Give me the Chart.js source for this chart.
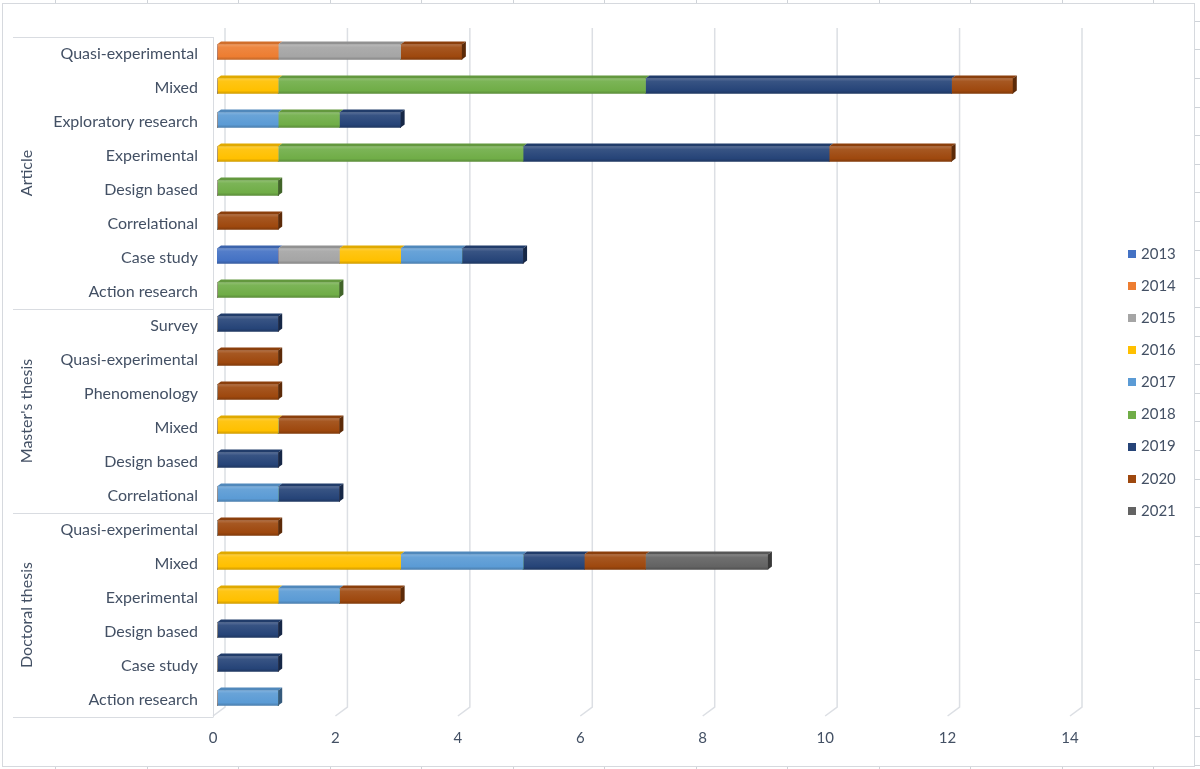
<!DOCTYPE html>
<html><head><meta charset="utf-8">
<script src="https://cdn.jsdelivr.net/npm/chart.js@4"></script>
<style>html,body{margin:0;padding:0;background:#fff;}canvas{display:block;}</style>
</head><body>
<canvas id="c" width="1200" height="769"></canvas>
<script>
const groups = ["Article", "Master's thesis", "Doctoral thesis"];
const groupSizes = [8, 6, 6];
const categories = [
  "Quasi-experimental","Mixed","Exploratory research","Experimental","Design based","Correlational","Case study","Action research",
  "Survey","Quasi-experimental","Phenomenology","Mixed","Design based","Correlational",
  "Quasi-experimental","Mixed","Experimental","Design based","Case study","Action research"
];
const years = ["2013","2014","2015","2016","2017","2018","2019","2020","2021"];
const v2013 = [0,0,0,0,0,0,1,0, 0,0,0,0,0,0, 0,0,0,0,0,0];
const v2014 = [1,0,0,0,0,0,0,0, 0,0,0,0,0,0, 0,0,0,0,0,0];
const v2015 = [2,0,0,0,0,0,1,0, 0,0,0,0,0,0, 0,0,0,0,0,0];
const v2016 = [0,1,0,1,0,0,1,0, 0,0,0,1,0,0, 0,3,1,0,0,0];
const v2017 = [0,0,1,0,0,0,1,0, 0,0,0,0,0,1, 0,2,1,0,0,1];
const v2018 = [0,6,1,4,1,0,0,2, 0,0,0,0,0,0, 0,0,0,0,0,0];
const v2019 = [0,5,1,5,0,0,1,0, 1,0,0,0,1,1, 0,1,0,1,1,0];
const v2020 = [1,1,0,2,0,1,0,0, 0,1,1,1,0,0, 1,1,1,0,0,0];
const v2021 = [0,0,0,0,0,0,0,0, 0,0,0,0,0,0, 0,2,0,0,0,0];
const seriesValues = [v2013,v2014,v2015,v2016,v2017,v2018,v2019,v2020,v2021];
const xTickStep = 2, xMax = 14;
const colors = ["#4472C4","#ED7D31","#A5A5A5","#FFC000","#5B9BD5","#70AD47","#264478","#9E480E","#636363"];

const TXT = "#435064";
const FONT = "Lato";
const GRID = "#dcdfe4";

function shade(hex, f) {
  const n = parseInt(hex.slice(1), 16);
  let r = (n >> 16) & 255, g = (n >> 8) & 255, b = n & 255;
  if (f >= 0) { r += (255 - r) * f; g += (255 - g) * f; b += (255 - b) * f; }
  else { r *= 1 + f; g *= 1 + f; b *= 1 + f; }
  return "rgb(" + Math.round(r) + "," + Math.round(g) + "," + Math.round(b) + ")";
}

function barFill(base) {
  return function (ctx) {
    const chart = ctx.chart, ys = chart.scales && chart.scales.y;
    if (!ys || ctx.type !== "data") return base;
    const yc = ys.getPixelForValue(ctx.dataIndex);
    if (!isFinite(yc)) return base;
    const g = chart.ctx.createLinearGradient(0, yc - 7.5, 0, yc + 7.5);
    g.addColorStop(0, shade(base, 0.22));
    g.addColorStop(0.2, shade(base, 0.08));
    g.addColorStop(0.8, base);
    g.addColorStop(1, shade(base, -0.18));
    return g;
  };
}

const deco = {
  id: "deco",
  beforeDraw(chart) {
    const c = chart.ctx;
    c.save();
    c.fillStyle = "#fff"; c.fillRect(0, 0, chart.width, chart.height);
    c.strokeStyle = "#d6d9de"; c.lineWidth = 1;
    c.strokeRect(2.5, 3.5, 1192, 763);
    c.strokeStyle = "#cfd3d8";
    c.beginPath();
    for (let x = 55; x < 1194; x += 91.5) {
      const px = Math.round(x) + 0.5;
      c.moveTo(px, 0); c.lineTo(px, 3);
      c.moveTo(px, 767); c.lineTo(px, 769);
    }
    for (let y = 20.7; y < 766; y += 28.62) {
      const py = Math.round(y) + 0.5;
      c.moveTo(1195, py); c.lineTo(1200, py);
    }
    c.stroke();
    c.restore();
  },
  beforeDatasetsDraw(chart) {
    const c = chart.ctx, xs = chart.scales.x, ys = chart.scales.y;
    c.save();
    c.strokeStyle = GRID; c.lineWidth = 1.5;
    xs.ticks.forEach(t => {
      const px = xs.getPixelForValue(t.value);
      c.beginPath();
      c.moveTo(px + 8, 28);
      c.lineTo(px + 8, 707);
      c.lineTo(px - 4, 716);
      c.stroke();
    });
    const step = ys.getPixelForValue(1) - ys.getPixelForValue(0);
    const edge = i => ys.getPixelForValue(i) - step / 2 + 2;
    c.strokeStyle = "#d9dce1"; c.lineWidth = 1;
    c.beginPath();
    c.moveTo(213.5, edge(0)); c.lineTo(213.5, edge(categories.length));
    let idx = 0;
    const bounds = [0];
    groupSizes.forEach(s => { idx += s; bounds.push(idx); });
    bounds.forEach(b => { const y = Math.round(edge(b)) + 0.5; c.moveTo(13, y); c.lineTo(213.5, y); });
    c.stroke();
    c.fillStyle = TXT;
    c.font = "16px " + FONT;
    c.textAlign = "center"; c.textBaseline = "middle";
    for (let g = 0; g < groups.length; g++) {
      const yc = (edge(bounds[g]) + edge(bounds[g + 1])) / 2;
      c.save();
      c.translate(27, yc);
      c.rotate(-Math.PI / 2);
      c.fillText(groups[g], 0, 0);
      c.restore();
    }
    c.restore();
  },
  afterDatasetsDraw(chart) {
    const c = chart.ctx, dx = 4, dy = 3;
    c.save();
    for (let i = 0; i < categories.length; i++) {
      let last = -1;
      chart.data.datasets.forEach((ds, d) => { if (ds.data[i] > 0) last = d; });
      chart.data.datasets.forEach((ds, d) => {
        if (!(ds.data[i] > 0)) return;
        const el = chart.getDatasetMeta(d).data[i];
        const l = Math.min(el.base, el.x), r = Math.max(el.base, el.x);
        const top = el.y - el.height / 2, bot = el.y + el.height / 2;
        const col = colors[d];
        c.fillStyle = shade(col, -0.12);
        c.beginPath();
        c.moveTo(l, top); c.lineTo(r, top); c.lineTo(r + dx, top - dy); c.lineTo(l + dx, top - dy); c.closePath();
        c.fill();
        if (d === last) {
          c.fillStyle = shade(col, -0.42);
          c.beginPath();
          c.moveTo(r, top); c.lineTo(r + dx, top - dy); c.lineTo(r + dx, bot - dy); c.lineTo(r, bot); c.closePath();
          c.fill();
        }
      });
    }
    c.restore();
  },
  afterDraw(chart) {
    const c = chart.ctx;
    c.save();
    c.font = "15px " + FONT;
    c.textBaseline = "middle"; c.textAlign = "left";
    chart.data.datasets.forEach((ds, d) => {
      const yc = 254 + d * 32.1;
      c.fillStyle = colors[d];
      c.fillRect(1128, Math.round(yc - 4), 8, 8);
      c.fillStyle = TXT;
      c.fillText(ds.label, 1141, yc);
    });
    c.restore();
  }
};

new Chart(document.getElementById("c"), {
  type: "bar",
  data: {
    labels: categories,
    datasets: years.map((y, i) => ({
      label: y,
      data: seriesValues[i],
      backgroundColor: barFill(colors[i]),
      borderWidth: 0,
      barThickness: 15
    }))
  },
  options: {
    indexAxis: "y",
    responsive: false,
    animation: false,
    devicePixelRatio: 1,
    layout: { padding: { top: 35, right: 126, bottom: 0, left: 0 } },
    plugins: { legend: { display: false }, tooltip: { enabled: false } },
    scales: {
      x: {
        stacked: true, min: 0, max: xMax,
        ticks: { stepSize: xTickStep, labelOffset: -4, padding: 14, color: TXT, font: { family: FONT, size: 15 } },
        grid: { display: false, drawTicks: false },
        border: { display: false },
        afterFit(s) { s.height = 54; }
      },
      y: {
        stacked: true,
        ticks: { autoSkip: false, padding: 19, labelOffset: 2, color: TXT, font: { family: FONT, size: 16 } },
        grid: { display: false, drawTicks: false },
        border: { display: false },
        afterFit(s) { s.width = 217; }
      }
    }
  },
  plugins: [deco]
});
</script>
</body></html>
